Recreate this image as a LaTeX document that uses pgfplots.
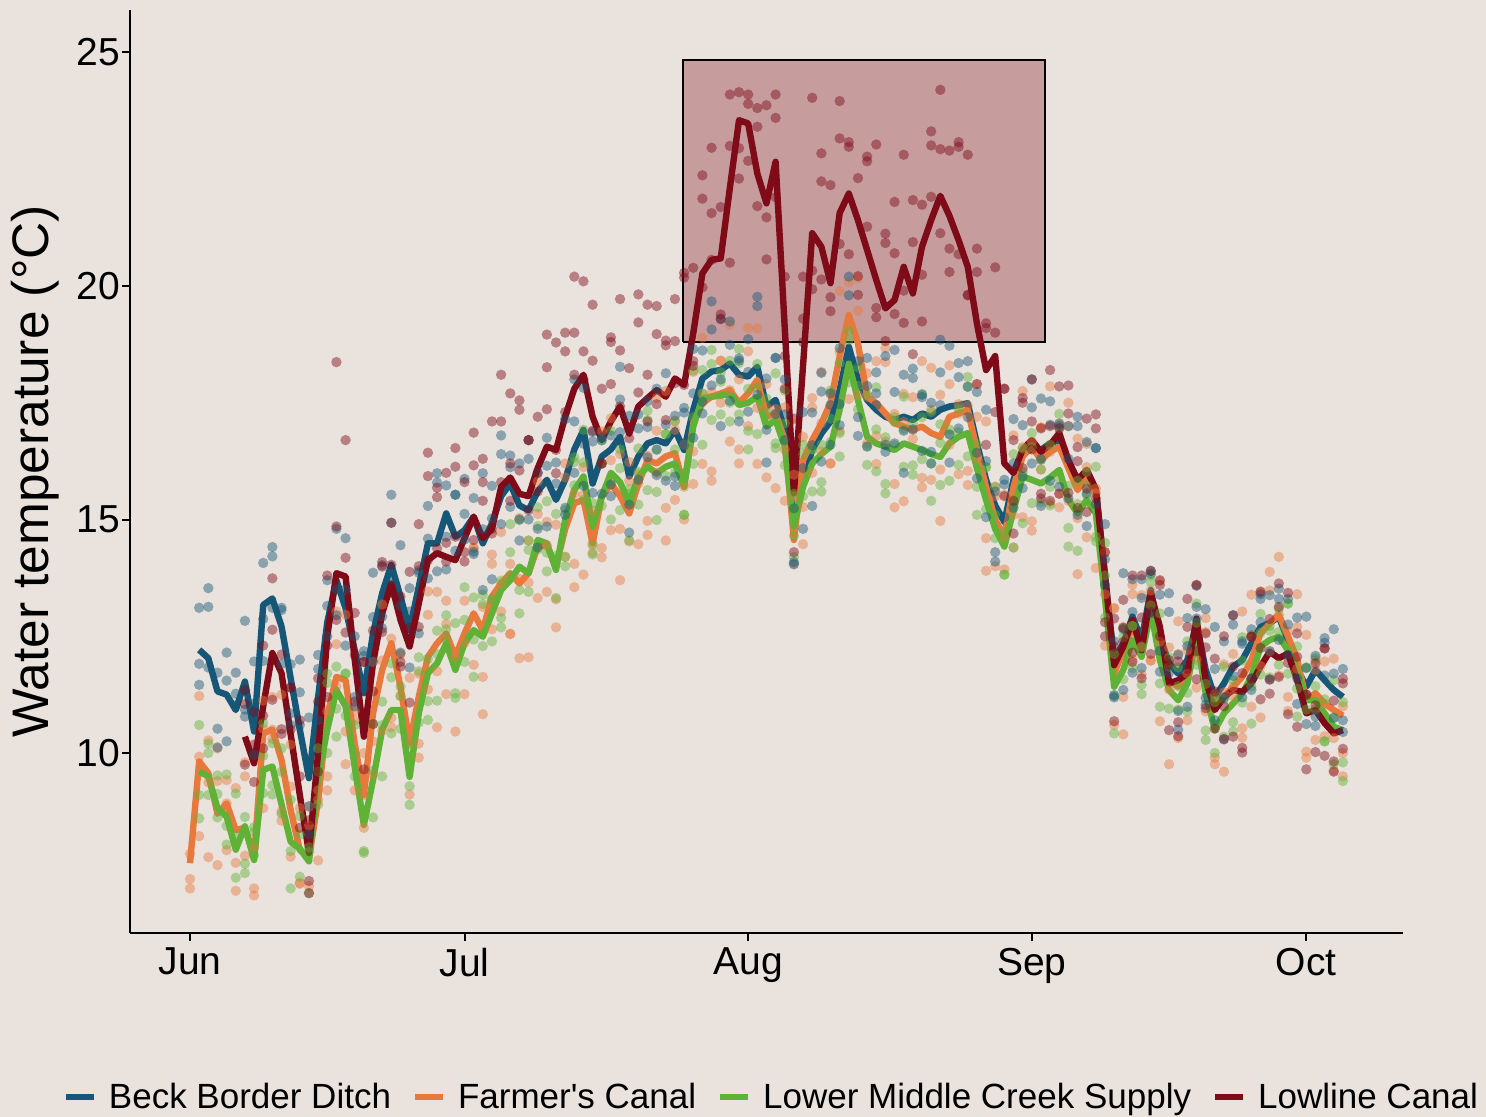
\documentclass[border=0pt]{standalone}
\usepackage{fontspec}
\setmainfont{Liberation Sans}
\usepackage{pgfplots}
\usepackage{pgfplotstable}
\pgfplotsset{compat=1.18}
\definecolor{bg}{HTML}{E9E2DD}
\definecolor{cBlue}{HTML}{165676}
\definecolor{cOrange}{HTML}{E8793D}
\definecolor{cGreen}{HTML}{5FB236}
\definecolor{cRed}{HTML}{7F0A18}

% day 0 = 1 June; m = daily line value; a, b, c = individual readings
\pgfplotstableread{
d m a b c
1 12.21 11.91 13.11 11.46
2 12.03 13.13 11.83 13.53
3 11.32 10.52 11.72 10.12
4 11.25 11.55 10.25 12.15
5 10.92 11.72 11.02 11.27
6 11.53 10.93 12.83 10.78
7 10.46 11.06 9.96 11.96
8 13.17 12.87 14.07 11.97
9 13.31 14.41 13.11 14.21
10 12.71 11.91 13.11 13.06
11 11.60 11.90 10.60 10.85
12 10.50 11.30 10.60 12.00
13 9.46 8.86 10.76 8.26
14 11.20 11.80 10.70 12.10
15 12.80 12.50 13.70 13.15
16 13.70 14.80 13.50 12.95
17 13.10 12.30 13.50 14.60
18 12.20 12.50 11.20 11.00
19 11.28 12.08 11.38 12.18
20 12.56 11.96 13.86 12.91
21 13.42 14.02 12.92 12.67
22 14.03 13.73 14.93 15.53
23 13.35 14.45 13.15 12.15
24 12.63 11.83 13.03 13.53
25 13.56 13.86 12.56 13.91
26 14.49 15.29 14.59 13.74
27 14.49 13.89 15.79 15.99
28 15.13 15.73 14.63 13.93
29 14.63 14.33 15.53 15.53
30 14.77 15.87 14.57 15.12
31 15.06 14.26 15.46 14.31
32 14.49 14.79 13.49 15.99
33 14.92 15.72 15.02 13.72
34 15.50 14.90 16.80 16.40
35 15.77 16.37 15.27 16.12
36 15.30 15.00 16.20 14.55
37 15.20 16.30 15.00 16.70
38 15.60 14.80 16.00 14.40
39 15.85 16.15 14.85 16.75
40 15.42 16.22 15.52 15.77
41 15.85 15.25 17.15 15.10
42 16.50 17.10 16.00 18.00
43 16.92 16.62 17.82 15.72
44 15.77 16.87 15.57 16.67
45 16.35 15.55 16.75 16.70
46 16.50 16.80 15.50 15.75
47 16.77 17.57 16.87 18.27
48 15.92 15.32 17.22 14.72
49 16.35 16.95 15.85 17.25
50 16.63 16.33 17.53 16.98
51 16.70 17.80 16.50 15.95
52 16.63 15.83 17.03 18.13
53 16.92 17.22 15.92 15.72
54 16.49 17.29 16.59 17.39
55 17.35 16.75 18.65 17.70
56 18.02 18.62 17.52 17.27
57 18.17 17.87 19.07 19.67
58 18.20 19.30 18.00 17.00
59 18.34 17.54 18.74 19.24
60 18.10 18.40 17.10 18.45
61 18.06 18.86 18.16 17.31
62 18.27 17.67 19.57 19.77
63 17.42 18.02 16.92 16.22
64 17.56 17.26 18.46 18.46
65 16.90 18.00 16.70 17.25
66 14.84 14.04 15.24 14.09
67 15.80 16.10 14.80 17.30
68 16.49 17.29 16.59 15.29
69 16.84 16.24 18.14 17.74
70 17.10 17.70 16.60 17.45
71 17.77 17.47 18.67 17.02
72 18.70 19.80 18.50 20.20
73 17.99 17.19 18.39 16.79
74 17.56 17.86 16.56 18.46
75 17.35 18.15 17.45 17.70
76 17.20 16.60 18.50 16.45
77 17.13 17.73 16.63 18.63
78 17.20 16.90 18.10 16.00
79 17.13 18.23 16.93 18.03
80 17.27 16.47 17.67 17.62
81 17.20 17.50 16.20 16.45
82 17.35 18.15 17.45 18.85
83 17.42 16.82 18.72 16.22
84 17.45 18.05 16.95 18.35
85 17.49 17.19 18.39 17.84
86 16.63 17.73 16.43 15.88
87 15.85 15.05 16.25 17.35
88 15.30 15.60 14.30 14.10
89 14.95 15.75 15.05 15.85
90 15.85 15.25 17.15 16.20
91 16.42 17.02 15.92 15.67
92 16.50 16.20 17.40 18.00
93 16.49 17.59 16.29 15.29
94 16.63 15.83 17.03 17.53
95 16.70 17.00 15.70 17.05
96 16.20 17.00 16.30 15.45
97 15.70 15.10 17.00 17.20
98 16.06 16.66 15.56 14.86
99 15.63 15.33 16.53 16.53
100 13.80 14.90 13.60 14.15
101 11.99 11.19 12.39 11.24
102 12.35 12.65 11.35 13.85
103 12.92 13.72 13.02 11.72
104 12.42 11.82 13.72 13.32
105 13.49 13.90 12.99 13.84
106 12.49 12.19 13.39 11.74
107 11.92 13.02 11.72 13.42
108 11.70 10.90 12.10 10.50
109 11.99 12.29 10.99 12.89
110 12.78 13.58 12.88 13.13
111 11.78 11.18 13.08 11.03
112 11.20 11.80 10.70 12.70
113 11.49 11.19 12.39 10.29
114 11.85 12.95 11.65 12.75
115 11.99 11.19 12.39 12.34
116 12.35 12.65 11.35 11.60
117 12.70 13.30 12.80 13.40
118 12.78 12.18 13.38 11.58
119 12.92 13.52 12.42 13.30
120 12.40 12.10 13.30 12.75
121 11.80 12.90 11.60 11.05
122 11.42 10.62 11.82 12.92
123 11.78 12.08 10.78 10.58
124 11.56 12.36 11.66 12.46
125 11.35 10.75 12.65 11.70
126 11.20 11.80 10.70 10.45
}\beckT

\pgfplotstableread{
d m a b c
0 7.64 7.10 7.84 7.30
1 9.82 9.92 8.22 11.22
2 9.57 10.27 9.37 7.77
3 8.70 7.60 10.10 9.40
4 8.92 9.42 7.92 8.92
5 8.35 7.65 9.25 7.05
6 8.40 9.50 7.80 9.80
7 7.78 6.95 7.98 7.10
8 10.42 10.52 8.82 11.12
9 10.50 11.20 10.30 10.50
10 9.85 8.75 11.25 8.55
11 8.78 9.28 7.78 10.18
12 7.92 7.22 8.82 7.20
13 7.75 8.85 7.15 8.45
14 9.00 7.70 9.20 9.00
15 10.80 10.90 9.20 9.50
16 11.63 12.33 11.43 13.03
17 11.56 10.46 12.96 9.76
18 10.20 10.70 9.20 10.90
19 9.10 8.40 10.00 9.10
20 10.85 11.95 10.25 9.55
21 11.78 10.48 11.98 13.18
22 12.35 12.45 10.75 10.55
23 11.42 12.12 11.22 12.12
24 10.21 9.11 11.61 10.21
25 11.20 11.70 10.20 9.90
26 12.06 11.36 12.96 13.46
27 12.35 13.45 11.75 10.55
28 12.56 11.26 12.76 13.26
29 12.06 12.16 10.46 12.06
30 12.56 13.26 12.36 11.26
31 12.99 11.89 14.39 14.39
32 12.63 13.13 11.63 10.83
33 13.35 12.65 14.25 14.05
34 13.63 14.73 13.03 13.63
35 13.85 12.55 14.05 12.55
36 13.63 13.73 12.03 15.03
37 13.85 14.55 13.65 12.05
38 14.42 13.32 15.82 15.12
39 14.45 14.95 13.45 14.45
40 13.99 13.29 14.89 12.69
41 14.80 15.90 14.20 16.20
42 15.35 14.05 15.55 13.55
43 15.42 15.52 13.82 16.12
44 14.49 15.19 14.29 14.49
45 15.49 14.39 16.89 14.19
46 15.77 16.27 14.77 17.17
47 15.50 14.80 16.40 13.70
48 15.13 16.23 14.53 15.83
49 15.77 14.47 15.97 15.77
50 16.27 16.37 14.67 14.97
51 16.20 16.90 16.00 17.60
52 16.35 15.25 17.75 14.55
53 16.42 16.92 15.42 17.12
54 15.70 15.00 16.60 15.70
55 17.06 18.16 16.46 15.76
56 17.49 16.19 17.69 18.89
57 17.63 17.73 16.03 15.83
58 17.70 18.40 17.50 18.40
59 17.77 16.67 19.17 17.77
60 17.50 18.00 16.50 16.20
61 17.70 17.00 18.60 19.10
62 17.99 19.09 17.39 16.19
63 17.20 15.90 17.40 17.90
64 17.27 17.37 15.67 17.27
65 16.70 17.40 16.50 15.40
66 14.56 14.05 15.96 15.50
67 16.27 16.77 15.27 14.47
68 16.70 16.00 17.60 17.40
69 17.06 18.16 16.46 17.06
70 17.50 16.20 17.70 16.20
71 18.49 18.59 16.89 19.89
72 19.38 20.08 19.18 17.58
73 18.77 17.67 20.17 19.47
74 17.63 18.13 16.63 17.63
75 17.49 16.79 18.39 16.19
76 17.27 18.37 16.67 18.67
77 17.06 15.76 17.26 15.26
78 16.99 17.09 15.39 17.69
79 16.92 17.62 16.72 16.92
80 16.99 15.89 18.39 15.69
81 16.85 17.35 15.85 18.25
82 16.77 16.07 17.67 14.97
83 17.20 18.30 16.60 17.90
84 17.27 15.97 17.47 17.27
85 17.34 17.44 15.74 16.04
86 16.50 17.20 16.30 17.90
87 15.70 14.60 17.10 13.90
88 15.00 15.50 14.00 15.70
89 14.63 13.93 15.53 14.63
90 15.70 16.80 15.10 14.40
91 16.35 15.05 16.55 17.75
92 16.56 16.66 14.96 14.76
93 16.27 16.97 16.07 16.97
94 16.45 15.35 17.85 16.45
95 16.56 17.06 15.56 15.26
96 16.10 15.40 17.00 17.50
97 15.63 16.73 15.03 13.83
98 15.92 14.62 16.12 16.62
99 15.56 15.66 13.96 15.56
100 13.60 14.30 13.40 12.30
101 11.70 10.60 13.10 13.10
102 12.20 12.70 11.20 10.40
103 12.70 12.00 13.60 13.40
104 12.28 13.38 11.68 12.28
105 13.28 11.98 13.48 11.98
106 12.28 12.38 10.68 13.68
107 11.56 12.26 11.36 9.76
108 11.42 10.32 12.82 12.12
109 11.70 12.20 10.70 11.70
110 12.70 12.00 13.60 11.40
111 11.49 12.59 10.89 12.89
112 11.06 9.76 11.26 9.90
113 11.20 11.30 9.60 11.90
114 11.42 12.12 11.22 11.42
115 11.63 10.53 13.03 10.33
116 11.99 12.49 10.99 13.39
117 12.56 11.86 13.46 10.76
118 12.78 13.88 12.18 13.48
119 12.96 11.66 14.20 12.96
120 12.50 12.60 10.90 11.20
121 12.00 12.70 11.80 13.40
122 11.13 10.03 12.53 9.90
123 11.28 11.78 10.28 11.98
124 11.06 10.36 11.96 11.06
125 10.92 12.02 10.32 9.62
126 10.80 9.50 11.00 10.00
}\farmT

\pgfplotstableread{
d m a b c
1 9.60 9.10 10.60 8.60
2 9.50 10.00 9.10 10.20
3 8.82 8.62 9.52 9.12
4 8.64 9.54 8.44 8.04
5 7.93 7.33 8.23 9.13
6 8.43 8.63 7.63 7.43
7 7.71 8.31 7.81 8.41
8 9.64 9.14 10.64 9.94
9 9.71 10.21 9.31 9.11
10 8.90 8.70 9.60 10.10
11 8.10 9.00 7.90 7.10
12 7.95 7.35 8.25 8.65
13 7.68 7.88 7.00 7.98
14 9.50 10.10 9.60 8.90
15 10.50 10.00 11.50 11.70
16 11.35 11.85 10.95 10.35
17 11.00 10.80 11.70 11.70
18 9.70 10.60 9.50 10.00
19 8.46 7.86 8.76 7.90
20 9.42 9.62 8.62 10.62
21 10.50 11.10 10.60 9.50
22 10.92 10.42 11.92 11.62
23 10.92 11.42 10.52 11.22
24 9.49 9.29 10.19 8.89
25 10.85 11.75 10.65 12.05
26 11.71 11.11 12.01 10.71
27 11.92 12.12 11.12 12.62
28 12.35 12.95 12.45 12.65
29 11.78 11.28 12.78 11.18
30 12.35 12.85 11.95 13.55
31 12.63 12.43 13.33 11.63
32 12.49 13.39 12.29 13.19
33 12.99 12.39 13.29 13.29
34 13.49 13.69 12.69 12.89
35 13.70 14.30 13.80 14.90
36 13.99 13.49 14.99 12.99
37 13.85 14.35 13.45 14.55
38 14.56 14.36 15.26 14.86
39 14.49 15.39 14.29 13.89
40 13.92 13.32 14.22 15.12
41 15.00 15.20 14.20 14.00
42 15.63 16.23 15.73 16.33
43 15.92 15.42 16.92 16.22
44 14.85 15.35 14.45 14.25
45 15.49 15.29 16.19 16.69
46 16.00 16.90 15.80 15.00
47 15.80 15.20 16.10 16.50
48 15.35 15.55 14.55 15.65
49 15.92 16.52 16.02 15.32
50 16.13 15.63 17.13 17.33
51 15.99 16.49 15.59 14.99
52 16.13 15.93 16.83 16.83
53 16.20 17.10 16.00 16.50
54 15.70 15.10 16.00 15.10
55 16.99 17.19 16.19 18.19
56 17.60 18.20 17.70 16.60
57 17.63 17.13 18.63 18.33
58 17.65 18.15 17.25 17.95
59 17.70 17.50 18.40 17.10
60 17.45 18.35 17.25 18.65
61 17.50 16.90 17.80 16.50
62 17.63 17.83 16.83 18.33
63 16.99 17.59 17.09 17.29
64 17.13 16.63 18.13 16.53
65 16.56 17.06 16.16 17.76
66 14.85 14.65 15.55 14.20
67 15.70 16.60 15.50 16.40
68 16.20 15.60 16.50 16.50
69 16.40 16.60 15.60 15.80
70 16.56 17.16 16.66 17.76
71 17.35 16.85 18.35 16.35
72 18.34 18.84 17.94 19.04
73 17.56 17.36 18.26 17.86
74 16.77 17.67 16.57 16.17
75 16.63 16.03 16.93 17.83
76 16.56 16.76 15.76 15.56
77 16.49 17.09 16.59 17.19
78 16.63 16.13 17.63 16.93
79 16.56 17.06 16.16 15.96
80 16.49 16.29 17.19 17.69
81 16.40 17.30 16.20 15.40
82 16.34 15.74 16.64 17.04
83 16.63 16.83 15.83 16.93
84 16.77 17.37 16.87 16.17
85 16.85 16.35 17.85 18.05
86 16.10 16.60 15.70 15.10
87 15.42 15.22 16.12 16.12
88 14.80 15.70 14.60 15.10
89 14.42 13.82 14.72 13.82
90 15.20 15.40 14.40 16.40
91 15.92 16.52 16.02 14.92
92 15.85 15.35 16.85 16.55
93 15.77 16.27 15.37 16.07
94 15.90 15.70 16.60 15.30
95 16.06 16.96 15.86 17.26
96 15.42 14.82 15.72 14.42
97 15.13 15.33 14.33 15.83
98 15.42 16.02 15.52 15.72
99 15.13 14.63 16.13 14.53
100 13.30 13.80 12.90 14.50
101 11.42 11.22 12.12 10.42
102 11.78 12.68 11.58 12.48
103 12.42 11.82 12.72 12.72
104 12.06 12.26 11.26 11.46
105 13.06 13.66 13.16 13.80
106 11.99 11.49 12.99 10.99
107 11.35 11.85 10.95 12.05
108 11.13 10.93 11.83 11.43
109 11.49 12.39 11.29 10.89
110 12.49 11.89 12.79 13.20
111 11.28 11.48 10.48 10.28
112 10.49 11.09 10.00 11.19
113 10.85 10.35 11.85 11.15
114 11.06 11.56 10.66 10.46
115 11.28 11.08 11.98 12.48
116 11.63 12.53 11.43 10.63
117 12.28 11.68 12.58 12.98
118 12.42 12.62 11.62 12.72
119 12.49 13.09 12.59 11.89
120 12.20 11.70 13.20 13.20
121 11.78 12.28 11.38 10.78
122 11.13 10.93 11.83 11.83
123 11.13 12.03 10.93 11.43
124 10.85 10.25 11.15 10.25
125 10.56 10.76 9.76 11.56
126 10.49 11.09 9.40 9.80
}\lmcsT

\pgfplotstableread{
d m a b c
6 10.35 11.05 9.75 11.35
7 9.78 9.38 10.88 10.18
8 11.00 12.30 10.80 10.10
9 12.14 11.14 12.64 13.74
10 11.71 12.11 10.51 10.41
11 10.40 11.40 10.50 11.40
12 9.10 8.40 10.70 9.50
13 7.86 8.56 7.26 7.00
14 10.00 9.60 11.10 11.60
15 12.50 13.80 12.30 11.20
16 13.85 12.85 18.37 14.85
17 13.78 16.70 12.58 14.18
18 12.00 13.00 12.10 11.10
19 10.35 9.65 11.95 11.95
20 11.92 12.62 11.32 10.62
21 12.99 12.59 14.09 13.99
22 13.63 14.93 13.43 14.03
23 12.85 11.85 13.35 11.95
24 12.28 12.68 11.08 13.88
25 13.20 14.90 14.00 12.70
26 14.13 14.13 16.43 15.93
27 14.28 15.68 14.38 15.48
28 14.20 14.50 16.00 14.10
29 14.13 16.13 14.63 16.53
30 14.60 14.30 15.80 14.10
31 15.06 16.16 14.56 16.86
32 14.60 16.30 15.40 15.80
33 14.80 14.80 17.10 14.70
34 15.70 17.10 15.80 18.10
35 15.90 16.20 17.70 15.40
36 15.55 17.55 16.05 17.35
37 15.50 15.20 16.70 16.70
38 16.10 17.20 15.60 16.00
39 16.56 18.26 17.36 18.96
40 16.49 16.49 18.79 15.99
41 17.20 18.60 17.30 19.00
42 17.80 18.10 20.20 19.00
43 18.10 20.10 18.60 18.00
44 17.20 16.90 18.40 19.60
45 16.70 17.80 16.20 16.20
46 17.10 18.80 17.90 18.90
47 17.42 17.42 19.72 18.62
48 16.84 18.24 16.94 16.74
49 17.42 17.72 19.22 19.82
50 17.60 19.60 18.10 17.10
51 17.77 17.47 18.97 19.57
52 17.63 18.73 17.13 18.83
53 18.02 19.72 18.82 17.92
54 17.88 17.88 20.18 20.28
55 18.99 20.39 18.29 18.39
56 20.27 19.97 22.37 21.87
57 20.56 22.96 20.56 21.56
58 20.59 19.29 21.69 19.39
59 22.10 23.00 20.50 24.10
60 23.55 24.15 22.30 22.95
61 23.48 22.68 24.10 23.90
62 22.41 23.81 21.71 23.41
63 21.77 21.47 23.87 20.57
64 22.66 24.10 21.90 23.60
65 19.10 17.80 20.20 18.50
66 15.56 16.46 14.30 17.16
67 18.30 20.20 18.80 19.30
68 21.13 20.33 24.03 19.93
69 20.84 22.24 20.14 22.84
70 20.06 19.76 22.16 19.46
71 21.56 23.96 20.90 23.16
72 21.98 20.68 23.08 22.98
73 21.41 22.31 19.81 20.21
74 20.77 22.67 21.27 22.77
75 20.13 19.33 23.03 19.53
76 19.52 20.92 18.82 21.12
77 19.70 19.40 21.80 20.70
78 20.41 22.81 19.90 19.21
79 19.84 18.54 20.94 21.84
80 20.84 21.74 19.24 20.24
81 21.41 23.31 21.91 23.01
82 21.93 21.13 24.20 22.93
83 21.50 22.90 20.80 20.30
84 20.98 20.68 23.08 22.98
85 20.41 22.81 19.80 19.81
86 19.20 17.90 20.30 20.80
87 18.20 19.10 16.60 19.20
88 18.50 20.40 19.00 17.30
89 16.20 15.50 17.80 17.80
90 16.00 16.70 15.40 14.70
91 16.50 16.10 17.60 17.50
92 16.70 18.00 16.50 17.10
93 16.45 15.45 16.95 15.55
94 16.60 17.00 15.40 18.20
95 16.85 17.85 16.95 15.55
96 16.27 15.57 17.87 17.27
97 15.85 16.55 15.25 16.25
98 16.06 15.66 17.16 15.16
99 15.65 16.95 15.45 17.25
100 13.80 12.80 14.30 12.50
101 11.88 12.28 10.68 12.88
102 12.28 13.28 12.38 12.68
103 12.85 12.15 13.80 11.95
104 12.20 12.90 11.60 13.80
105 13.42 13.02 13.90 12.12
106 12.70 13.60 12.50 13.70
107 11.49 10.49 11.99 11.89
108 11.56 11.96 10.36 10.66
109 11.70 12.70 11.80 13.30
110 12.88 12.18 13.60 11.58
111 11.56 12.26 10.96 12.56
112 10.92 10.52 12.02 11.32
113 11.20 12.50 11.00 10.30
114 11.35 10.35 11.85 12.95
115 11.31 11.71 10.11 10.01
116 11.49 12.49 11.59 12.49
117 11.85 11.15 13.45 12.25
118 12.17 12.87 11.57 11.27
119 12.03 11.63 13.13 13.63
120 12.13 13.43 11.93 10.83
121 11.56 10.56 12.06 12.56
122 10.85 11.25 9.65 11.25
123 10.92 11.92 11.02 10.02
124 10.64 9.94 12.24 12.24
125 10.42 11.12 9.82 9.60
126 10.49 10.09 11.59 11.49
}\lowT

\begin{document}
\begin{tikzpicture}
\fill[bg] (-65pt,-92pt) rectangle (678pt,466.5pt);
\begin{axis}[
  at={(0pt,0pt)}, anchor=south west,
  scale only axis, width=636.5pt, height=461.5pt,
  xmin=-6.56, xmax=132.57, ymin=6.146, ymax=25.91,
  axis x line=bottom, axis y line=left,
  axis line style={line width=1pt, black, -},
  xtick={0,30,61,92,122}, xticklabels={Jun,Jul,Aug,Sep,Oct},
  ytick={10,15,20,25},
  minor tick num=0,
  tick align=outside, major tick length=4pt,
  tick style={line width=1pt, black},
  ticklabel style={font=\fontsize{19.5}{19.5}\selectfont, text=black},
  yticklabel style={xshift=2.5pt},
  /pgf/number format/assume math mode=true,
  ylabel={Water temperature (°C)},
  ylabel style={font=\fontsize{25.7}{25.7}\selectfont, at={(axis description cs:-0.0745,0.5)}, anchor=center},
  legend columns=4,
  legend style={at={(0.5047,-0.1777)}, anchor=center, draw=none, fill=none,
    font=\fontsize{17.5}{20}\selectfont,
    /tikz/every odd column/.append style={column sep=4pt},
    /tikz/every even column/.append style={column sep=8.5pt}},
  legend image code/.code={\draw (0pt,0pt) -- (14pt,0pt);},
  dots/.style={only marks, mark=*, mark size=2.6pt, forget plot},
  lns/.style={line width=3.2pt, line join=round, forget plot},
]
\addlegendimage{cBlue, line width=3pt}
\addlegendentry{Beck Border Ditch}
\addlegendimage{cOrange, line width=3pt}
\addlegendentry{Farmer\textquotesingle s Canal}
\addlegendimage{cGreen, line width=3pt}
\addlegendentry{Lower Middle Creek Supply}
\addlegendimage{cRed, line width=3pt}
\addlegendentry{Lowline Canal}

\addplot[draw=black, line width=1pt, fill=cRed, fill opacity=0.32, line join=miter, forget plot]
  coordinates {(53.9,18.8) (93.4,18.8) (93.4,24.83) (53.9,24.83) (53.9,18.8)};

\addplot[dots, color=cOrange, mark options={fill=cOrange, fill opacity=0.45, draw opacity=0}] table[x=d,y=a]{\farmT};
\addplot[dots, color=cOrange, mark options={fill=cOrange, fill opacity=0.45, draw opacity=0}] table[x=d,y=b]{\farmT};
\addplot[dots, color=cOrange, mark options={fill=cOrange, fill opacity=0.45, draw opacity=0}] table[x=d,y=c]{\farmT};
\addplot[dots, color=cGreen, mark options={fill=cGreen, fill opacity=0.45, draw opacity=0}] table[x=d,y=a]{\lmcsT};
\addplot[dots, color=cGreen, mark options={fill=cGreen, fill opacity=0.45, draw opacity=0}] table[x=d,y=b]{\lmcsT};
\addplot[dots, color=cGreen, mark options={fill=cGreen, fill opacity=0.45, draw opacity=0}] table[x=d,y=c]{\lmcsT};
\addplot[dots, color=cBlue, mark options={fill=cBlue, fill opacity=0.45, draw opacity=0}] table[x=d,y=a]{\beckT};
\addplot[dots, color=cBlue, mark options={fill=cBlue, fill opacity=0.45, draw opacity=0}] table[x=d,y=b]{\beckT};
\addplot[dots, color=cBlue, mark options={fill=cBlue, fill opacity=0.45, draw opacity=0}] table[x=d,y=c]{\beckT};
\addplot[dots, color=cRed, mark options={fill=cRed, fill opacity=0.45, draw opacity=0}] table[x=d,y=a]{\lowT};
\addplot[dots, color=cRed, mark options={fill=cRed, fill opacity=0.45, draw opacity=0}] table[x=d,y=b]{\lowT};
\addplot[dots, color=cRed, mark options={fill=cRed, fill opacity=0.45, draw opacity=0}] table[x=d,y=c]{\lowT};

\addplot[lns, cBlue] table[x=d,y=m]{\beckT};
\addplot[lns, cOrange] table[x=d,y=m]{\farmT};
\addplot[lns, cGreen] table[x=d,y=m]{\lmcsT};
\addplot[lns, cRed] table[x=d,y=m]{\lowT};
\end{axis}
\pgfresetboundingbox
\useasboundingbox (-65pt,-92pt) rectangle (678pt,466.5pt);
\end{tikzpicture}
\end{document}
